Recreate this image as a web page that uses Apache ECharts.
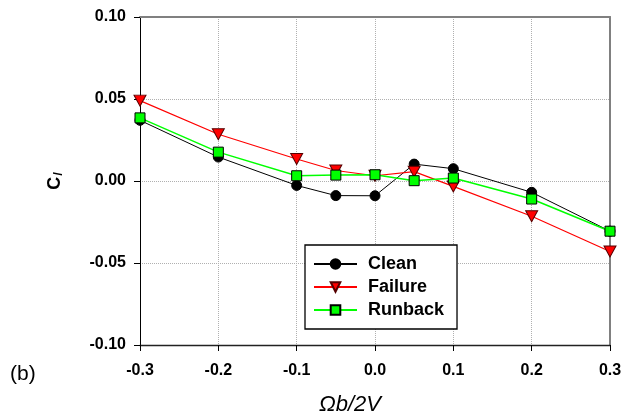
<!DOCTYPE html>
<html><head><meta charset="utf-8">
<script src="https://cdn.jsdelivr.net/npm/echarts@6/dist/echarts.min.js"></script>
<style>html,body{margin:0;padding:0;background:#fff}#c{width:635px;height:418px}</style>
</head><body><div id="c"></div>
<script>
const xValues = [-0.3, -0.2, -0.1, -0.05, 0.0, 0.05, 0.1, 0.2, 0.3];
const clean   = [0.037, 0.0146, -0.0027, -0.0089, -0.009, 0.0103, 0.0075, -0.0069, -0.0306];
const failure = [0.049, 0.0285, 0.0134, 0.0064, 0.0032, 0.0057, -0.0033, -0.0215, -0.043];
const runback = [0.0385, 0.0176, 0.0032, 0.0036, 0.0038, 0.0002, 0.0018, -0.011, -0.0306];
const xTicks = [-0.3, -0.2, -0.1, 0.0, 0.1, 0.2, 0.3];
const yTicks = [-0.10, -0.05, 0.00, 0.05, 0.10];

const pairs = arr => xValues.map((x, i) => [x, arr[i]]);
const font = 'Liberation Sans, Arial, sans-serif';
const chart = echarts.init(document.getElementById('c'));
chart.setOption({
  animation: false,
  grid: { left: 140, right: 25, top: 17, bottom: 73, show: false },
  xAxis: [{
    type: 'value', min: xTicks[0], max: xTicks[xTicks.length - 1], interval: 0.1,
    axisLine: { onZero: false, lineStyle: { color: '#222', width: 1.3 } },
    axisTick: { show: true, length: 6, lineStyle: { color: '#000' } },
    axisLabel: { fontFamily: font, fontSize: 16, fontWeight: 'bold', color: '#000', margin: 18,
      formatter: v => v.toFixed(1) },
    splitLine: { show: true, lineStyle: { type: 'dotted', color: '#b0b0b0', width: 1 } }
  }, {
    type: 'value', position: 'top', min: -0.3, max: 0.3, interval: 0.1,
    axisLine: { show: true, onZero: false, lineStyle: { color: '#808080', width: 2 } },
    axisTick: { show: false }, axisLabel: { show: false }, splitLine: { show: false }
  }],
  yAxis: [{
    type: 'value', min: yTicks[0], max: yTicks[yTicks.length - 1], interval: 0.05,
    name: '{c|C}{s|l}', nameLocation: 'middle', nameGap: 75, nameRotate: 90,
    nameTextStyle: { rich: {
      c: { fontFamily: font, fontSize: 18, fontWeight: 'bold', color: '#000' },
      s: { fontFamily: font, fontSize: 12, fontStyle: 'italic', fontWeight: 'bold', color: '#000', verticalAlign: 'bottom', padding: [7,0,0,1] }
    } },
    axisLine: { onZero: false, lineStyle: { color: '#000', width: 1 } },
    axisTick: { show: true, length: 6, lineStyle: { color: '#000' } },
    axisLabel: { fontFamily: font, fontSize: 16, fontWeight: 'bold', color: '#000', margin: 14,
      formatter: v => v.toFixed(2) },
    splitLine: { show: true, lineStyle: { type: 'dotted', color: '#b0b0b0', width: 1 } }
  }, {
    type: 'value', position: 'right', min: -0.1, max: 0.1, interval: 0.05,
    axisLine: { show: true, onZero: false, lineStyle: { color: '#808080', width: 2 } },
    axisTick: { show: false }, axisLabel: { show: false }, splitLine: { show: false }
  }],
  legend: {
    orient: 'vertical', left: 305, top: 245,
    padding: [10, 13, 10, 8], itemGap: 5, itemWidth: 43, itemHeight: 12,
    borderColor: '#000', borderWidth: 1.3, backgroundColor: '#fff',
    textStyle: { fontFamily: font, fontSize: 18, lineHeight: 18, fontWeight: 'bold', color: '#000', padding: [0, 0, 0, 6] },
    data: ['Clean', 'Failure', 'Runback']
  },
  graphic: [
    { type: 'text', left: 10, top: 364, style: { text: '(b)', font: '21px ' + font, fill: '#000' } },
    { type: 'text', x: 350, y: 405, style: { text: 'Ωb/2V', font: 'italic 22px ' + font, fill: '#000', align: 'center', verticalAlign: 'middle' } }
  ],
  series: [
    { name: 'Clean', type: 'line', data: pairs(clean), symbol: 'circle', symbolSize: 10,
      lineStyle: { color: '#000', width: 1 }, itemStyle: { color: '#000', borderColor: '#000', borderWidth: 1 } },
    { name: 'Failure', type: 'line', data: pairs(failure), symbol: 'triangle', symbolRotate: 180, symbolSize: [12, 11],
      lineStyle: { color: '#ff0000', width: 1.2 }, itemStyle: { color: '#ff0000', borderColor: '#500', borderWidth: 1 } },
    { name: 'Runback', type: 'line', data: pairs(runback), symbol: 'rect', symbolSize: 10,
      lineStyle: { color: '#00ff00', width: 1.5 }, itemStyle: { color: '#00ff00', borderColor: '#000', borderWidth: 1 } }
  ]
});
</script></body></html>
